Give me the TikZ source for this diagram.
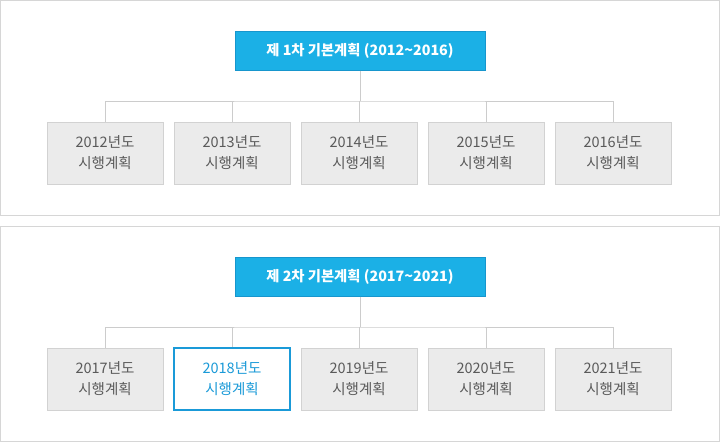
\documentclass[tikz,border=0pt]{standalone}
\usepackage{fontspec}
\setmainfont{Noto Sans CJK KR}
\definecolor{panelline}{HTML}{D6D6D6}
\definecolor{topfill}{HTML}{1BB0E6}
\definecolor{topline}{HTML}{1796CD}
\definecolor{childfill}{HTML}{EBEBEB}
\definecolor{childline}{HTML}{D2D2D2}
\definecolor{childtext}{HTML}{5A5A5A}
\definecolor{hl}{HTML}{1A9AD8}
\definecolor{conn}{HTML}{CCCCCC}
\tikzset{
  panel/.style={draw=panelline, line width=1pt, fill=white},
  topbox/.style={draw=topline, fill=topfill, line width=1pt, minimum width=250pt, minimum height=39pt, inner sep=0pt, text=white, font=\fontsize{14.3}{16}\selectfont\bfseries},
  childbox/.style={draw=childline, fill=childfill, line width=1pt, minimum width=116pt, minimum height=62pt, inner sep=0pt, text=childtext, align=center, font=\fontsize{14.5}{21}\selectfont},
  hlbox/.style={childbox, draw=hl, line width=2pt, fill=white, text=hl},
  connector/.style={draw=conn, line width=1pt}
}
\begin{document}
\begin{tikzpicture}[x=1pt,y=-1pt]
\useasboundingbox (0,0) rectangle (720,442);
\fill[white] (0,0) rectangle (720,442);
% panels
\draw[panel] (0.5,0.5) rectangle (719.5,215);
\draw[panel] (0.5,226.5) rectangle (719.5,441.5);
% panel 1
\node[topbox] (t1) at (360,50.5) {제 1차 기본계획 (2012\char"7E 2016)};
\node[childbox] (a1) at (105,153) {2012년도\\시행계획};
\node[childbox] (a2) at (232,153) {2013년도\\시행계획};
\node[childbox] (a3) at (359,153) {2014년도\\시행계획};
\node[childbox] (a4) at (486,153) {2015년도\\시행계획};
\node[childbox] (a5) at (613,153) {2016년도\\시행계획};
\coordinate (bus1) at (360,101);
\draw[connector] (t1.south) -- (t1.south |- bus1);
\draw[connector] (a1.north) |- (bus1) -| (a5.north);
\draw[connector] (a2.north) -- (a2.north |- bus1);
\draw[connector] (a3.north) -- (a3.north |- bus1);
\draw[connector] (a4.north) -- (a4.north |- bus1);
% panel 2
\node[topbox] (t2) at (360,276.5) {제 2차 기본계획 (2017\char"7E 2021)};
\node[childbox] (b1) at (105,379) {2017년도\\시행계획};
\node[hlbox] (b2) at (232,379) {2018년도\\시행계획};
\node[childbox] (b3) at (359,379) {2019년도\\시행계획};
\node[childbox] (b4) at (486,379) {2020년도\\시행계획};
\node[childbox] (b5) at (613,379) {2021년도\\시행계획};
\coordinate (bus2) at (360,327);
\draw[connector] (t2.south) -- (t2.south |- bus2);
\draw[connector] (b1.north) |- (bus2) -| (b5.north);
\draw[connector] (b2.north) -- (b2.north |- bus2);
\draw[connector] (b3.north) -- (b3.north |- bus2);
\draw[connector] (b4.north) -- (b4.north |- bus2);
\end{tikzpicture}
\end{document}
